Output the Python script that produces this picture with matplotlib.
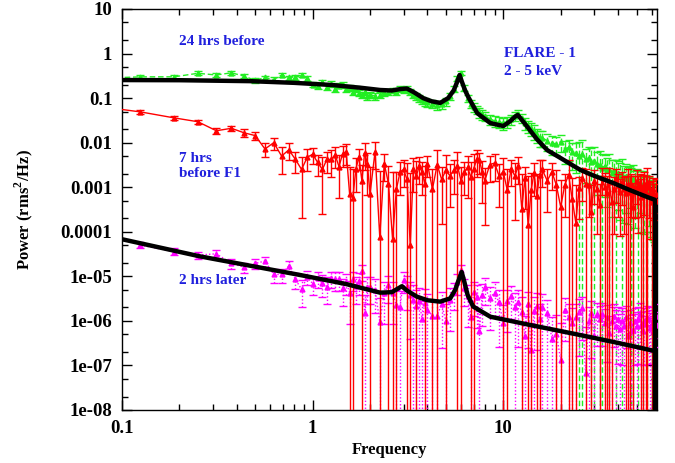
import matplotlib
matplotlib.use('Agg')
import matplotlib.pyplot as plt
import numpy as np
from matplotlib.ticker import LogLocator, NullFormatter

plt.rcParams['font.family'] = ['Liberation Serif', 'DejaVu Serif']
plt.rcParams['font.weight'] = 'bold'
plt.rcParams['mathtext.fontset'] = 'custom'
plt.rcParams['mathtext.rm'] = 'Liberation Serif:bold'
plt.rcParams['mathtext.bf'] = 'Liberation Serif:bold'

# Frequency grid (Hz) shared by the three power spectra
freq = [
    0.0625, 0.125, 0.1875, 0.25, 0.3125, 0.375, 0.4375, 0.5,
    0.5625, 0.625, 0.6875, 0.75, 0.8125, 0.875, 0.9375, 1.0,
    1.0625, 1.125, 1.1875, 1.25, 1.3125, 1.375, 1.4375, 1.5,
    1.5625, 1.625, 1.6875, 1.75, 1.8125, 1.875, 1.9375, 2.0,
    2.125, 2.25, 2.375, 2.5, 2.625, 2.75, 2.875, 3.0,
    3.125, 3.25, 3.375, 3.5, 3.625, 3.75, 3.875, 4.0,
    4.25, 4.5, 4.75, 5.0, 5.25, 5.5, 5.75, 6.0,
    6.25, 6.5, 6.75, 7.0, 7.25, 7.5, 7.75, 8.0,
    8.5, 9.0, 9.5, 10.0, 10.5, 11.0, 11.5, 12.0,
    12.5, 13.0, 13.5, 14.0, 14.5, 15.0, 15.5, 16.0,
    17, 18, 19, 20, 21, 22, 23, 24,
    25, 26, 27, 28, 29, 30, 31, 32,
    33, 34, 35, 36, 37, 38, 39, 40,
    41, 42, 43, 44, 45, 46, 47, 48,
    49, 50, 51, 52, 53, 54, 55, 56,
    57, 58, 59, 60, 61, 62, 63, 64,
]

# 24 hrs before (green)
pow_24h = [
    0.27, 0.30, 0.30, 0.36, 0.33, 0.37, 0.31, 0.25,
    0.29, 0.26, 0.33, 0.29, 0.29, 0.33, 0.28, 0.20,
    0.19, 0.23, 0.18, 0.21, 0.16, 0.19, 0.20, 0.16,
    0.17, 0.14, 0.16, 0.13, 0.12, 0.14, 0.11, 0.12,
    0.11, 0.12, 0.13, 0.14, 0.15, 0.14, 0.16, 0.15,
    0.16, 0.14, 0.12, 0.11, 0.10, 0.09, 0.085, 0.08,
    0.075, 0.07, 0.072, 0.085, 0.11, 0.16, 0.28, 0.37,
    0.17, 0.10, 0.075, 0.062, 0.055, 0.048, 0.044, 0.040,
    0.034, 0.031, 0.029, 0.028, 0.030, 0.034, 0.040, 0.045,
    0.036, 0.028, 0.024, 0.021, 0.018, 0.015, 0.013, 0.013,
    0.011, 0.0098, 0.0094, 0.0105, 0.0072, 0.0078, 0.0062, 0.0060,
    0.0050, 0.0055, 0.0042, 0.0046, 0.0036, 0.0038, 0.0034, 0.0031,
    0.0027, 0.0030, 0.0024, 0.0026, 0.0021, 0.0023, 0.0019, 0.0021,
    0.0018, 0.0020, 0.0016, 0.0018, 0.0015, 0.0017, 0.0013, 0.0015,
    0.0012, 0.0014, 0.0011, 0.0013, 0.0010, 0.0011, 0.0009, 0.0010,
    0.0008, 0.0009, 0.00075, 0.0007, 0.00065, 0.0006, 0.0006, 0.0005,
]
relerr_24h = [
    0.1, 0.1, 0.12, 0.1, 0.12, 0.1, 0.1, 0.12,
    0.1, 0.12, 0.1, 0.1, 0.12, 0.1, 0.12, 0.12,
    0.15, 0.12, 0.15, 0.14, 0.15, 0.13, 0.15, 0.15,
    0.14, 0.16, 0.15, 0.16, 0.15, 0.16, 0.17, 0.16,
    0.17, 0.16, 0.15, 0.16, 0.15, 0.16, 0.14, 0.15,
    0.15, 0.16, 0.17, 0.18, 0.18, 0.2, 0.2, 0.2,
    0.2, 0.22, 0.2, 0.2, 0.18, 0.15, 0.12, 0.1,
    0.15, 0.18, 0.2, 0.22, 0.22, 0.25, 0.25, 0.25,
    0.25, 0.28, 0.28, 0.3, 0.28, 0.25, 0.22, 0.2,
    0.25, 0.3, 0.3, 0.32, 0.35, 0.35, 0.4, 0.4,
    0.4, 0.45, 0.45, 0.4, 0.55, 0.5, 0.6, 0.65,
    1.1, 1.1, 0.7, 0.75, 1.1, 1.1, 0.8, 1.1,
    1.1, 0.8, 0.85, 1.1, 0.9, 0.8, 1.1, 0.85,
    0.9, 1.1, 0.9, 0.85, 0.9, 0.8, 1.1, 1.1,
    0.9, 0.85, 1.1, 0.8, 0.9, 1.1, 0.9, 0.9,
    1.1, 0.85, 0.9, 1.1, 0.9, 0.9, 1.1, 1.1,
]

# 7 hrs before F1 (red)
pow_7h = [
    0.072, 0.049, 0.036, 0.0295, 0.0185, 0.021, 0.0166, 0.0144,
    0.0072, 0.010, 0.0050, 0.0069, 0.0042, 0.0025, 0.0047, 0.0055,
    0.0036, 0.0025, 0.0042, 0.0042, 0.0053, 0.0029, 0.0057, 0.0063,
    0.00072, 0.00058, 0.0026, 0.0048, 0.0014, 0.0060, 0.0033, 0.0007,
    0.0063, 0.000075, 0.0034, 0.0012, 0.00007, 0.0009, 0.0022, 0.0025,
    0.0015, 0.00005, 0.0026, 0.0018, 0.0030, 0.0022, 0.0012, 0.0034,
    0.0009, 0.0032, 0.0015, 0.0024, 0.0018, 0.0024, 0.0030, 0.0014,
    0.0022, 0.0028, 0.0017, 0.0026, 0.0042, 0.0040, 0.0022, 0.0014,
    0.0032, 0.0035, 0.0018, 0.0022, 0.00085, 0.0026, 0.0018, 0.0030,
    0.00033, 0.0016, 0.00014, 0.00085, 0.0021, 0.00065, 0.0019, 0.0025,
    0.0014, 0.0022, 0.0011, 0.00036, 0.0011, 0.0019, 0.00053, 0.00016,
    0.00095, 0.0016, 0.0012, 0.0011, 0.00028, 0.0014, 0.0009, 0.0004,
    0.0017, 0.0010, 0.00073, 0.0013, 0.00047, 0.0009, 0.0015, 0.0011,
    0.0008, 0.0013, 0.0009, 0.00073, 0.0012, 0.0008, 0.0011, 0.00036,
    0.0010, 0.0014, 0.00095, 0.0011, 0.0006, 0.0009, 0.0012, 0.0008,
    0.0013, 0.0010, 0.0007, 0.00047, 0.0009, 0.0003, 0.0007, 0.0005,
]
relerr_7h = [
    0.1, 0.1, 0.1, 0.12, 0.15, 0.15, 0.2, 0.2,
    0.35, 0.3, 0.6, 0.4, 0.5, 0.92, 0.5, 0.4,
    0.5, 0.9, 0.5, 0.6, 0.5, 0.8, 0.5, 0.5,
    3.0, 3.5, 0.7, 0.5, 1.2, 0.6, 0.8, 3.0,
    0.6, 30, 0.6, 1.5, 30, 1.5, 0.7, 0.6,
    1.3, 40, 0.7, 1.1, 0.6, 0.7, 1.5, 0.5,
    1.8, 1.1, 0.9, 1.2, 0.8, 0.7, 1.1, 1.0,
    0.7, 0.8, 1.2, 1.1, 0.6, 0.5, 0.8, 0.9,
    0.6, 0.6, 0.8, 1.1, 2.0, 0.6, 0.9, 0.6,
    5.0, 0.8, 12, 1.5, 0.7, 2.0, 1.1, 0.6,
    0.8, 0.6, 1.2, 3.0, 0.8, 1.1, 2.0, 6.0,
    0.8, 0.7, 1.1, 0.8, 3.0, 0.7, 0.9, 2.0,
    0.6, 1.1, 1.5, 1.1, 2.0, 0.9, 0.7, 0.8,
    0.9, 0.7, 0.9, 1.5, 1.1, 1.2, 0.8, 2.5,
    0.8, 0.7, 0.9, 0.8, 1.5, 1.1, 0.8, 1.2,
    1.1, 0.8, 0.9, 2.0, 0.8, 3.0, 1.2, 2.0,
]

# 2 hrs later (magenta)
pow_2h = [
    np.nan, 5.0e-5, 3.6e-5, 3.0e-5, 3.2e-5, 1.95e-5, 1.6e-5, 1.95e-5,
    2.2e-5, 1.1e-5, 1.1e-5, 1.7e-5, 8.5e-6, 5.1e-6, 9.9e-6, 6.8e-6,
    9.0e-6, 7.0e-6, 5.9e-6, 9.0e-6, 8.5e-6, 8.7e-6, 5.5e-6, 7.5e-6,
    4.3e-6, 8.5e-6, 6.0e-6, 7.8e-6, 1.3e-5, 1.5e-6, 5.9e-6, 5.9e-6,
    5.0e-6, 9.5e-7, 4.2e-6, 6.4e-6, 4.2e-6, 2.3e-6, 2.1e-6, 8.4e-6,
    6.0e-6, 3.9e-6, 3.0e-6, 2.2e-6, 2.8e-6, 1.1e-6, 2.5e-6, 1.8e-6,
    1.3e-6, 1.3e-6, 2.4e-6, 9.7e-7, 3.0e-6, 4.5e-6, 7.5e-6, 1.4e-5,
    5.5e-6, 3.6e-6, 1.24e-6, 4.4e-6, 3.5e-6, 5.8e-7, 3.8e-6, 5.8e-6,
    3.2e-6, 4.3e-6, 2.6e-6, 9.0e-7, 2.8e-6, 3.6e-6, 2.1e-6, 2.6e-6,
    1.6e-6, 4.6e-7, 2.4e-6, 2.2e-7, 1.7e-6, 2.2e-6, 1.1e-6, 2.0e-6,
    1.5e-6, 4.0e-7, 5.2e-7, 1.3e-7, 1.8e-6, 1.2e-6, 9.0e-7, 1.2e-6,
    1.6e-6, 1.9e-6, 6.6e-8, 1.0e-6, 1.5e-6, 4.6e-7, 1.4e-6, 1.1e-6,
    1.4e-6, 9.0e-7, 1.2e-6, 5.3e-7, 1.0e-6, 1.3e-6, 7.8e-7, 1.1e-6,
    6.5e-7, 1.0e-6, 7.8e-7, 1.2e-6, 4.6e-7, 9.0e-7, 5.8e-7, 6.4e-7,
    1.0e-6, 7.5e-7, 1.1e-6, 1.4e-6, 8.0e-7, 6.0e-7, 1.0e-6, 8.5e-7,
    1.2e-6, 1.1e-6, 7.0e-7, 9.0e-7, 6.0e-7, 4.6e-7, 1.3e-6, 8.0e-7,
]
relerr_2h = [
    0.2, 0.15, 0.18, 0.2, 0.2, 0.25, 0.25, 0.25,
    0.25, 0.35, 0.35, 0.3, 0.4, 0.6, 0.35, 0.45,
    0.4, 0.5, 0.6, 0.4, 0.45, 0.45, 0.6, 0.5,
    0.8, 0.45, 0.6, 0.5, 0.4, 1.5, 0.6, 0.6,
    0.7, 2.5, 0.8, 0.6, 0.8, 1.1, 1.2, 0.5,
    0.7, 0.9, 1.1, 1.2, 1.0, 1.5, 1.1, 1.2,
    1.3, 1.2, 0.9, 1.5, 0.8, 0.6, 0.5, 0.3,
    0.6, 0.8, 1.3, 0.7, 0.8, 1.8, 0.8, 0.6,
    0.8, 0.7, 0.9, 1.5, 0.8, 0.7, 1.0, 0.9,
    1.1, 1.8, 0.9, 3.0, 1.0, 0.9, 1.2, 1.0,
    1.0, 2.0, 1.6, 6.0, 0.8, 1.0, 1.2, 1.0,
    0.9, 0.8, 10.0, 1.1, 0.9, 1.6, 0.8, 1.0,
    0.8, 1.1, 0.9, 1.4, 1.0, 0.8, 1.2, 0.9,
    1.2, 0.9, 1.1, 0.8, 1.5, 1.0, 1.3, 1.2,
    0.9, 1.1, 0.9, 0.8, 1.0, 1.2, 0.9, 1.0,
    0.8, 0.9, 1.1, 1.0, 1.2, 1.5, 0.8, 1.0,
]

# model fits (black curves)
model_24h_f = [0.1, 0.2, 0.47, 0.8, 1.28, 1.8, 2.26, 2.6, 2.9, 3.12,
               3.4, 3.8, 4.2, 4.67, 5.14, 5.5, 5.75, 5.9, 6.05, 6.3,
               6.55, 7.3, 8.55, 10.0, 10.9, 11.5, 11.9, 12.4, 13.4, 15.0,
               17.0, 20.0, 25.4, 30.0, 37.8, 45.0, 57.0, 62.5, 62.5]
model_24h_p = [0.254, 0.252, 0.24, 0.22, 0.196, 0.17, 0.152, 0.148, 0.16, 0.164,
               0.135, 0.10, 0.085, 0.078, 0.10, 0.15, 0.24, 0.33, 0.24, 0.15,
               0.106, 0.046, 0.0275, 0.0236, 0.0306, 0.038, 0.042, 0.034, 0.0224, 0.012,
               0.0068, 0.0045, 0.00243, 0.0018, 0.00124, 0.0009, 0.0006, 0.00052, 1e-12]
model_2h_f = [0.1, 0.257, 0.86, 1.5, 2.26, 2.6, 2.8, 2.94, 3.1, 3.52,
              4.0, 4.67, 5.27, 5.6, 5.85, 6.05, 6.25, 6.5, 6.95, 8.55,
              13.8, 25.4, 40.0, 62.5, 62.5]
model_2h_p = [6.8e-5, 2.8e-5, 1.07e-5, 6.7e-6, 4.3e-6, 4.4e-6, 5.3e-6, 6.0e-6, 4.9e-6, 3.5e-6,
              2.9e-6, 2.7e-6, 3.2e-6, 5.0e-6, 8.5e-6, 1.25e-5, 7.5e-6, 3.8e-6, 2.1e-6, 1.24e-6,
              8.1e-7, 4.8e-7, 3.2e-7, 2.1e-7, 1e-12]

ytick_vals = [10, 1, 0.1, 0.01, 0.001, 0.0001, 1e-5, 1e-6, 1e-7, 1e-8]
ytick_labels = ['10', '1', '0.1', '0.01', '0.001', '0.0001',
                '1e-05', '1e-06', '1e-07', '1e-08']
xtick_vals = [0.1, 1, 10]
xtick_labels = ['0.1', '1', '10']

fig = plt.figure(figsize=(6.75, 4.63), dpi=100)
ax = fig.add_axes([0.1807, 0.1145, 0.7926, 0.8661])
ax.set_xscale('log')
ax.set_yscale('log')


def draw_spectrum(p, rel, color, ls, z):
    p = np.array(p, dtype=float)
    err = p * np.array(rel)
    lo = np.minimum(err, p - 1e-12)   # bars longer than the value drop off the plot
    eb = ax.errorbar(freq, p, yerr=[lo, err], color=color, ls=ls, lw=1,
                     marker='^', ms=3.5, capsize=3, elinewidth=1, capthick=1,
                     zorder=z)
    eb[2][0].set_linestyle(ls)


draw_spectrum(pow_24h, relerr_24h, '#22ee22', (0, (4, 2)), 2)
draw_spectrum(pow_2h, relerr_2h, '#ff00ff', (0, (1, 1.5)), 3)
draw_spectrum(pow_7h, relerr_7h, '#ff0000', '-', 4)

ax.plot(model_24h_f, model_24h_p, color='k', lw=3.2, zorder=6)
ax.plot(model_2h_f, model_2h_p, color='k', lw=3.2, zorder=6)

ax.set_xlim(0.1, 64)
ax.set_ylim(1e-8, 10)

ax.set_yticks(ytick_vals)
ax.set_yticklabels(ytick_labels)
ax.set_xticks(xtick_vals)
ax.set_xticklabels(xtick_labels)
ax.yaxis.set_minor_locator(LogLocator(base=10, subs=(2, 5), numticks=50))
ax.xaxis.set_minor_locator(LogLocator(base=10, subs=np.arange(2, 10), numticks=50))
ax.yaxis.set_minor_formatter(NullFormatter())
ax.xaxis.set_minor_formatter(NullFormatter())
ax.tick_params(which='both', direction='in', top=True, right=True, labelsize=13.5)
ax.tick_params(which='major', length=7, width=1, pad=7)
ax.tick_params(which='minor', length=4, width=1)
for s in ax.spines.values():
    s.set_linewidth(1)

ax.set_xlabel('Frequency', fontsize=12, fontweight='bold')
ax.set_ylabel(r'Power (rms$^{2}$/Hz)', fontsize=12, fontweight='bold')
ax.yaxis.set_label_coords(-0.163, 0.5)

blue = '#2020dd'
tkw = dict(transform=ax.transAxes, color=blue, fontsize=11, fontweight='bold',
           va='center', ha='left')
ax.text(0.1065, 0.918, '24 hrs before', **tkw)
ax.text(0.714, 0.888, 'FLARE - 1', **tkw)
ax.text(0.714, 0.843, '2 - 5 keV', **tkw)
ax.text(0.1065, 0.626, '7 hrs', **tkw)
ax.text(0.1065, 0.589, 'before F1', **tkw)
ax.text(0.1065, 0.322, '2 hrs later', **tkw)

fig.savefig('out.png', dpi=100)
